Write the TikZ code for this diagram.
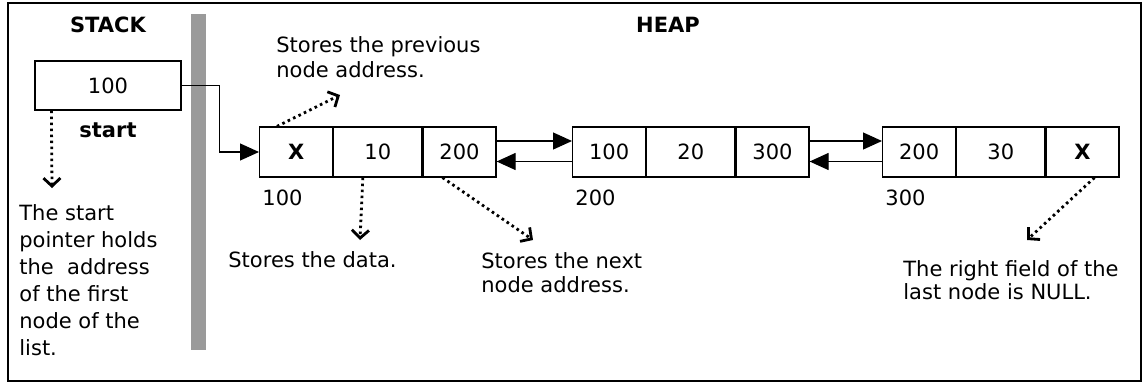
\documentclass[tikz,border=0pt]{standalone}
\usepackage{fontspec}
\setmainfont{DejaVu Sans}
\usetikzlibrary{positioning,arrows.meta}
\definecolor{stackgray}{HTML}{9A9A9A}

\begin{document}
\begin{tikzpicture}[
    x=0.5pt,y=-0.5pt,
    every node/.style={font=\fontsize{10.5}{13.5}\selectfont},
    cell/.style={draw,line width=0.6pt,minimum height=25pt,inner sep=0pt},
    side/.style={cell,minimum width=36.5pt},
    mid/.style={cell,minimum width=44pt},
    title/.style={font=\fontsize{10.5}{13}\selectfont\bfseries},
    note/.style={align=left,inner sep=0pt},
    addr/.style={inner sep=0pt},
    link/.style={line width=0.6pt,-{Triangle[length=9.5pt,width=8.5pt]}},
    hint/.style={line width=1.4pt,dash pattern=on 1.3pt off 1.7pt,-{Straight Barb[length=4pt,width=8.5pt,line width=1.4pt]}}
  ]
  \useasboundingbox (0,0) rectangle (1146,386);
  \draw[line width=1.3pt] (8,3) rectangle (1141,381);
  \fill[stackgray] (191,14) rectangle (206,350);

  \node[title] (stack) at (108,25) {STACK};
  \node[title] (heap) at (668,25) {HEAP};

  % stack side
  \node[draw,line width=0.6pt,minimum width=73pt,minimum height=24.5pt] (start) at (108,85.5) {100};
  \node[title] (startname) at (108,130) {start};
  \node[note,anchor=north west] (starttxt) at (19,204) {The start\\pointer holds\\the~ address\\of the first\\node of the\\list.};

  % heap nodes
  \node[side,anchor=west] (a1) at (259,152) {\textbf{X}};
  \node[mid,right=0pt of a1] (a2) {10};
  \node[side,right=0pt of a2] (a3) {200};
  \node[side,anchor=west] (b1) at (572,152) {100};
  \node[mid,right=0pt of b1] (b2) {20};
  \node[side,right=0pt of b2] (b3) {300};
  \node[side,anchor=west] (c1) at (882,152) {200};
  \node[mid,right=0pt of c1] (c2) {30};
  \node[side,right=0pt of c2] (c3) {\textbf{X}};

  \node[addr,below right=5.75pt and 1.5pt of a1.south west] (a1addr) {100};
  \node[addr,below right=5.75pt and 1.5pt of b1.south west] (b1addr) {200};
  \node[addr,below right=5.75pt and 1.5pt of c1.south west] (c1addr) {300};

  \draw[link] (start.east) -- ++(19pt,0) |- (a1.west);
  \draw[link] ([yshift=5.5pt]a3.east) -- ([yshift=5.5pt]b1.west);
  \draw[link] ([yshift=-4.75pt]b1.west) -- ([yshift=-4.75pt]a3.east);
  \draw[link] ([yshift=5.5pt]b3.east) -- ([yshift=5.5pt]c1.west);
  \draw[link] ([yshift=-4.75pt]c1.west) -- ([yshift=-4.75pt]b3.east);

  % notes
  \node[note,anchor=north west,font=\fontsize{10.5}{12.5}\selectfont] (prevtxt) at (276,36) {Stores the previous\\node address.};
  \node[note,anchor=west] (datatxt) at (228,260) {Stores the data.};
  \node[note,anchor=north west,font=\fontsize{10.5}{12}\selectfont] (nexttxt) at (481,252) {Stores the next\\node address.};
  \node[note,anchor=north west,font=\fontsize{10.5}{11.5}\selectfont] (nulltxt) at (903,260) {The right field of the\\last node is NULL.};

  \coordinate (starttip) at (52,188);
  \coordinate (prevtip) at (340,95);
  \coordinate (datatip) at (360,240);
  \coordinate (nexttip) at (533,240);
  \coordinate (nulltip) at (1027,240);
  \draw[hint] ([xshift=8.5pt]start.south west) -- (starttip);
  \draw[hint] ([xshift=9pt]a1.north west) -- (prevtip);
  \draw[hint] ([xshift=-7.5pt]a2.south) -- (datatip);
  \draw[hint] ([xshift=-8.5pt]a3.south) -- (nexttip);
  \draw[hint] ([xshift=6pt]c3.south) -- (nulltip);
\end{tikzpicture}
\end{document}
